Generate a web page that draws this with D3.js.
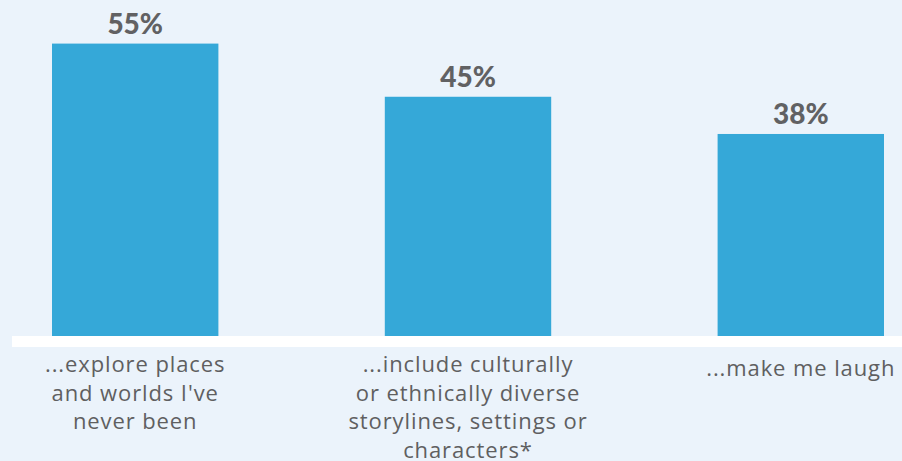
<!DOCTYPE html>
<html>
<head>
<meta charset="utf-8">
<script src="https://cdn.jsdelivr.net/npm/d3@7"></script>
<style>
  html, body { margin: 0; padding: 0; background: #ebf3fb; }
  svg { display: block; }
  .value-label { font-family: Lato, sans-serif; font-weight: 900; font-size: 28px; fill: #616163; }
  .cat-label { font-family: "Open Sans", sans-serif; font-size: 22px; letter-spacing: 0.9px; fill: #5f5f61; }
</style>
</head>
<body>
<svg width="902" height="461"></svg>
<script>
  // data
  const categories = [
    ["...explore places", "and worlds I've", "never been"],
    ["...include culturally", "or ethnically diverse", "storylines, settings or", "characters*"],
    ["...make me laugh"]
  ]
  const values = [55, 45, 38]
  const valueLabels = ["55%", "45%", "38%"]

  const svg = d3.select('svg')
  const width = +svg.attr('width')
  const height = +svg.attr('height')

  const baseY = 336

  const xScale = d3.scaleBand()
    .domain(d3.range(values.length))
    .range([52, 884])
    .paddingInner(0.5)
    .paddingOuter(0)

  const yScale = d3.scaleLinear()
    .domain([0, 63.2])
    .range([baseY, 0])

  svg.append('rect')
    .attr('width', width)
    .attr('height', height)
    .attr('fill', '#ebf3fb')

  svg.selectAll('rect.bar')
    .data(values)
    .enter()
    .append('rect')
    .attr('class', 'bar')
    .attr('x', (d, i) => xScale(i))
    .attr('y', d => yScale(d))
    .attr('width', xScale.bandwidth())
    .attr('height', d => baseY - yScale(d))
    .attr('fill', '#35a8d8')

  // white baseline
  svg.append('rect')
    .attr('x', 12)
    .attr('y', baseY)
    .attr('width', width - 12)
    .attr('height', 11)
    .attr('fill', '#ffffff')

  svg.selectAll('text.value-label')
    .data(values)
    .enter()
    .append('text')
    .attr('class', 'value-label')
    .attr('text-anchor', 'middle')
    .attr('x', (d, i) => xScale(i) + xScale.bandwidth() / 2)
    .attr('y', d => yScale(d) - 10)
    .text((d, i) => valueLabels[i])

  const catG = svg.selectAll('text.cat-label')
    .data(categories)
    .enter()
    .append('text')
    .attr('class', 'cat-label')
    .attr('text-anchor', 'middle')
    .attr('y', (d) => d.length === 1 ? 376 : 372)

  catG.selectAll('tspan')
    .data((d, i) => d.map(line => ({ line, i })))
    .enter()
    .append('tspan')
    .attr('x', d => xScale(d.i) + xScale.bandwidth() / 2)
    .attr('dy', (d, j) => j === 0 ? 0 : 28.7)
    .text(d => d.line)
</script>
</body>
</html>
